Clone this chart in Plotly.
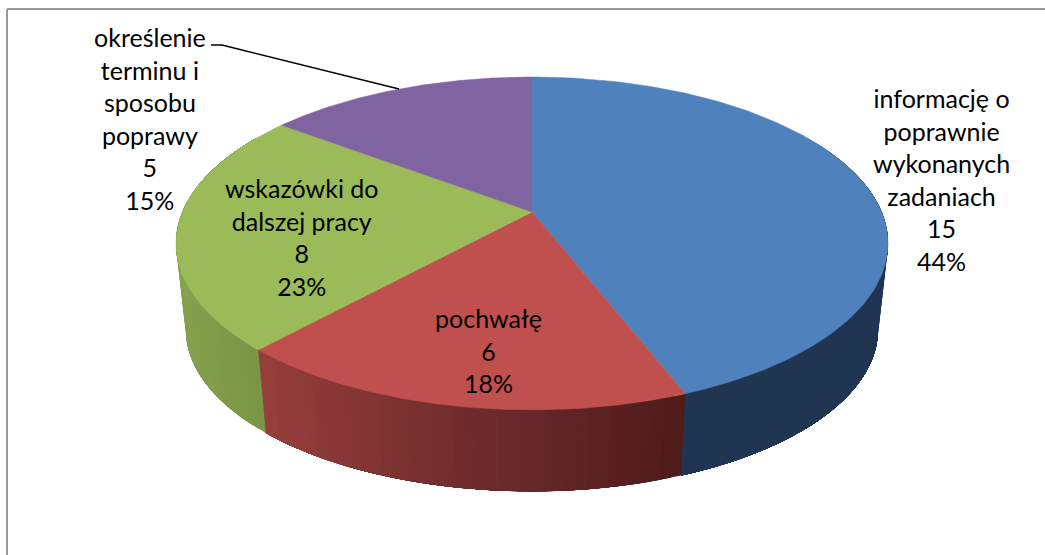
# -*- coding: utf-8 -*-
# wykres kolowy 3D - rysowany z wycinkow, bo go.Pie nie ma perspektywy
import numpy as np
import plotly.graph_objects as go

categories = ['informację o<br>poprawnie<br>wykonanych<br>zadaniach', 'pochwałę',
              'wskazówki do<br>dalszej pracy', 'określenie<br>terminu i<br>sposobu<br>poprawy']
values = [15, 6, 8, 5]
percent_labels = ['44%', '18%', '23%', '15%']

top_colors = ['#4f81bd', '#c0504d', '#9bbb59', '#8064a2']
# kolor boku: jasniejszy z lewej, ciemniejszy z prawej (x w pikselach)
side_stops = [
    [(685, '#1f3552'), (890, '#1f3552')],
    [(259, '#973f3d'), (400, '#7b3231'), (532, '#66282a'), (681, '#4f1c19')],
    [(176, '#86a24e'), (266, '#799444')],
    [(176, '#64507f'), (300, '#64507f')],
]

label_pos = [(941, 179), (488, 350), (301, 237), (150, 118)]
font_size = 25

# perspektywa
cx, cy_top, cy_bottom = 532, 212, 299
rx, ry, persp, shrink = 349.6, 160.5, 0.189, 0.972


def project(theta, cy, scale):
    s, c = np.sin(theta), np.cos(theta)
    return cx + scale * rx * s / (1 + persp * c), cy - scale * ry * c / (1 + persp * c)


def hex_rgb(h):
    return np.array([int(h[i:i + 2], 16) for i in (1, 3, 5)])


def side_color(stops, x):
    xs = [p[0] for p in stops]
    rgb = [np.interp(x, xs, [hex_rgb(p[1])[i] for p in stops]) for i in range(3)]
    return 'rgb(%d,%d,%d)' % tuple(rgb)


edges = np.cumsum([0] + values) / sum(values) * 2 * np.pi
fig = go.Figure()

# boki - paski na zakladke, zeby nie bylo widac szwow
side_from, side_to = np.radians(60), np.radians(300)
for i in range(len(values)):
    a0, a1 = max(edges[i], side_from), min(edges[i + 1], side_to)
    if a1 <= a0:
        continue
    steps = max(2, int(np.degrees(a1 - a0) / 1.5))
    t = np.linspace(a0, a1, steps + 1)
    for j in range(steps):
        # caly pas od tego kata do konca wycinka, kolejne przykrywaja poprzednie
        tt = np.linspace(t[j], a1, 40)
        x1, y1 = project(tt, cy_top, 1)
        x2, y2 = project(tt[::-1], cy_bottom, shrink)
        col = side_color(side_stops[i], project((t[j] + t[j + 1]) / 2, cy_top, 1)[0])
        fig.add_trace(go.Scatter(x=np.r_[x1, x2, x1[0]], y=np.r_[y1, y2, y1[0]],
                                 mode='lines', fill='toself', fillcolor=col,
                                 line=dict(color=col, width=0),
                                 hoverinfo='skip', showlegend=False))

# gorna powierzchnia
for i in range(len(values)):
    t = np.linspace(edges[i], edges[i + 1], 160)
    x, y = project(t, cy_top, 1)
    fig.add_trace(go.Scatter(x=np.r_[cx, x, cx], y=np.r_[cy_top, y, cy_top],
                             mode='lines', fill='toself', fillcolor=top_colors[i],
                             line=dict(color=top_colors[i], width=0.5),
                             name=categories[i].replace('<br>', ' '),
                             hoverinfo='name', showlegend=False))

# linia odniesienia do fioletowego wycinka
fig.add_shape(type='line', x0=211, y0=45, x1=222, y1=45, line=dict(color='black', width=1.5))
fig.add_shape(type='line', x0=222, y0=45, x1=399, y1=89, line=dict(color='black', width=1.5))

# ramka - tylko gora i lewa, reszta uciete na obrazku
fig.add_shape(type='line', x0=7, y0=9, x1=1045, y1=9, line=dict(color='#989898', width=2))
fig.add_shape(type='line', x0=7, y0=9, x1=7, y1=555, line=dict(color='#989898', width=2))

for i in range(len(values)):
    fig.add_annotation(x=label_pos[i][0], y=label_pos[i][1], xref='x', yref='y',
                       text='%s<br>%d<br>%s' % (categories[i], values[i], percent_labels[i]),
                       showarrow=False, align='center', xanchor='center', yanchor='middle',
                       font=dict(family='Lato', size=font_size, color='black'))

fig.update_layout(width=1045, height=555, margin=dict(l=0, r=0, t=0, b=0),
                  paper_bgcolor='white', plot_bgcolor='white', showlegend=False,
                  xaxis=dict(range=[0, 1045], visible=False),
                  yaxis=dict(range=[555, 0], visible=False))

# bez domyslnego marginesu strony
fig.write_html('out.html', config=dict(displayModeBar=False),
               post_script="document.body.style.margin='0';document.body.style.overflow='hidden';")
